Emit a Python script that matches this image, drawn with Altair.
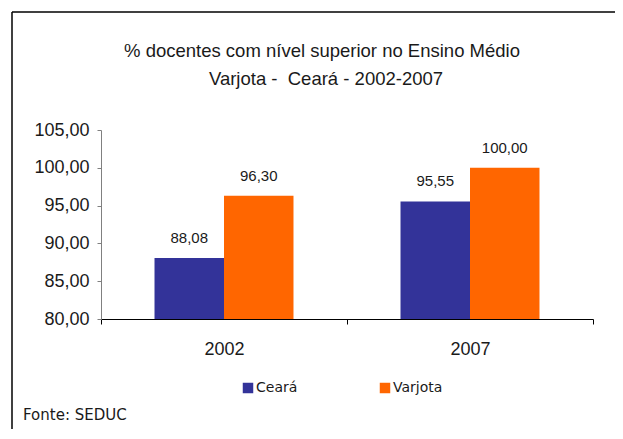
import altair as alt
import pandas as pd

years = ["2002", "2007"]
series = ["Ceará", "Varjota"]
ceara = [88.08, 95.55]
varjota = [96.30, 100.00]
colors = ["#333399", "#FF6600"]
y_min, y_max = 80, 105
y_ticks = [80, 85, 90, 95, 100, 105]
title_line1 = "% docentes com nível superior no Ensino Médio"
title_line2 = "Varjota -\u00a0 Ceará - 2002-2007"
source_note = "Fonte: SEDUC"

rows = []
for i, y in enumerate(years):
    rows.append({"ano": y, "serie": series[0], "valor": ceara[i]})
    rows.append({"ano": y, "serie": series[1], "valor": varjota[i]})
df = pd.DataFrame(rows)
df["rotulo"] = df["valor"].map(lambda v: f"{v:.2f}".replace(".", ","))
df["base"] = y_min

PW, PH = 492, 189
LEFT, TOP = 93, 122

x_enc = alt.X("ano:N", sort=years, title=None,
              scale=alt.Scale(paddingInner=0, paddingOuter=0),
              axis=alt.Axis(labelAngle=0, labelFontSize=18, labelFont="Liberation Sans",
                            labelColor="#1a1a1a", tickBand="extent", tickSize=5,
                            tickColor="#000000", domainColor="#000000", labelPadding=16,
                            grid=False))
xoff = alt.XOffset("serie:N", sort=series,
                   scale=alt.Scale(paddingInner=0, paddingOuter=0.77))
y_enc = alt.Y("valor:Q", title=None,
              scale=alt.Scale(domain=[y_min, y_max], zero=False, nice=False),
              axis=alt.Axis(values=y_ticks, tickCount=6, labelOverlap=False,
                            labelExpr="replace(format(datum.value, '.2f'), '.', ',')",
                            labelFontSize=18, labelFont="Liberation Sans", labelColor="#1a1a1a",
                            tickSize=4, tickColor="#808080", domainColor="#808080",
                            labelPadding=8, grid=False))

bars = alt.Chart(df).mark_bar().encode(
    x=x_enc,
    xOffset=xoff,
    y=y_enc,
    y2=alt.Y2("base:Q"),
    color=alt.Color("serie:N", sort=series,
                    scale=alt.Scale(domain=series, range=colors),
                    legend=alt.Legend(title=None, orient="none", direction="horizontal",
                                      legendX=140, legendY=251, symbolType="square",
                                      symbolSize=110, symbolStrokeWidth=0,
                                      labelFont="DejaVu Sans", labelFontSize=14,
                                      labelColor="#1a1a1a", labelOffset=1,
                                      columnPadding=80)),
)

labels = alt.Chart(df).mark_text(dy=-20, fontSize=15, font="Liberation Sans",
                                 color="#1a1a1a").encode(
    x=x_enc,
    xOffset=xoff,
    text="rotulo:N",
    y=y_enc,
)

title_df = pd.DataFrame({"k": [0]})
title1 = alt.Chart(title_df).mark_text(
    align="center", baseline="middle", fontSize=18.5, font="Liberation Sans",
    color="#1a1a1a", text=title_line1).encode(x=alt.value(221), y=alt.value(-79))
title2 = alt.Chart(title_df).mark_text(
    align="center", baseline="middle", fontSize=18.5, font="Liberation Sans",
    color="#1a1a1a", text=title_line2).encode(x=alt.value(225), y=alt.value(-51))

note = alt.Chart(title_df).mark_text(
    align="left", baseline="middle", fontSize=15, font="DejaVu Sans",
    color="#1a1a1a", text=source_note).encode(x=alt.value(-78), y=alt.value(285))

top_line = alt.Chart(title_df).mark_rule(color="#000000", strokeWidth=1.5).encode(
    x=alt.value(-89), x2=alt.value(PW + 40), y=alt.value(-118))
left_line = alt.Chart(title_df).mark_rule(color="#000000", strokeWidth=1.5).encode(
    x=alt.value(-89), y=alt.value(-118), y2=alt.value(PH + 130))

chart = alt.layer(bars, labels, title1, title2, note, top_line, left_line).properties(
    width=PW, height=PH,
    background="white",
    padding={"left": LEFT, "top": TOP, "right": 22, "bottom": 110},
    autosize=alt.AutoSizeParams(type="none"),
).configure_view(strokeWidth=0, stroke="transparent")

chart.save("out.html", embed_options={"renderer": "svg", "actions": False})
